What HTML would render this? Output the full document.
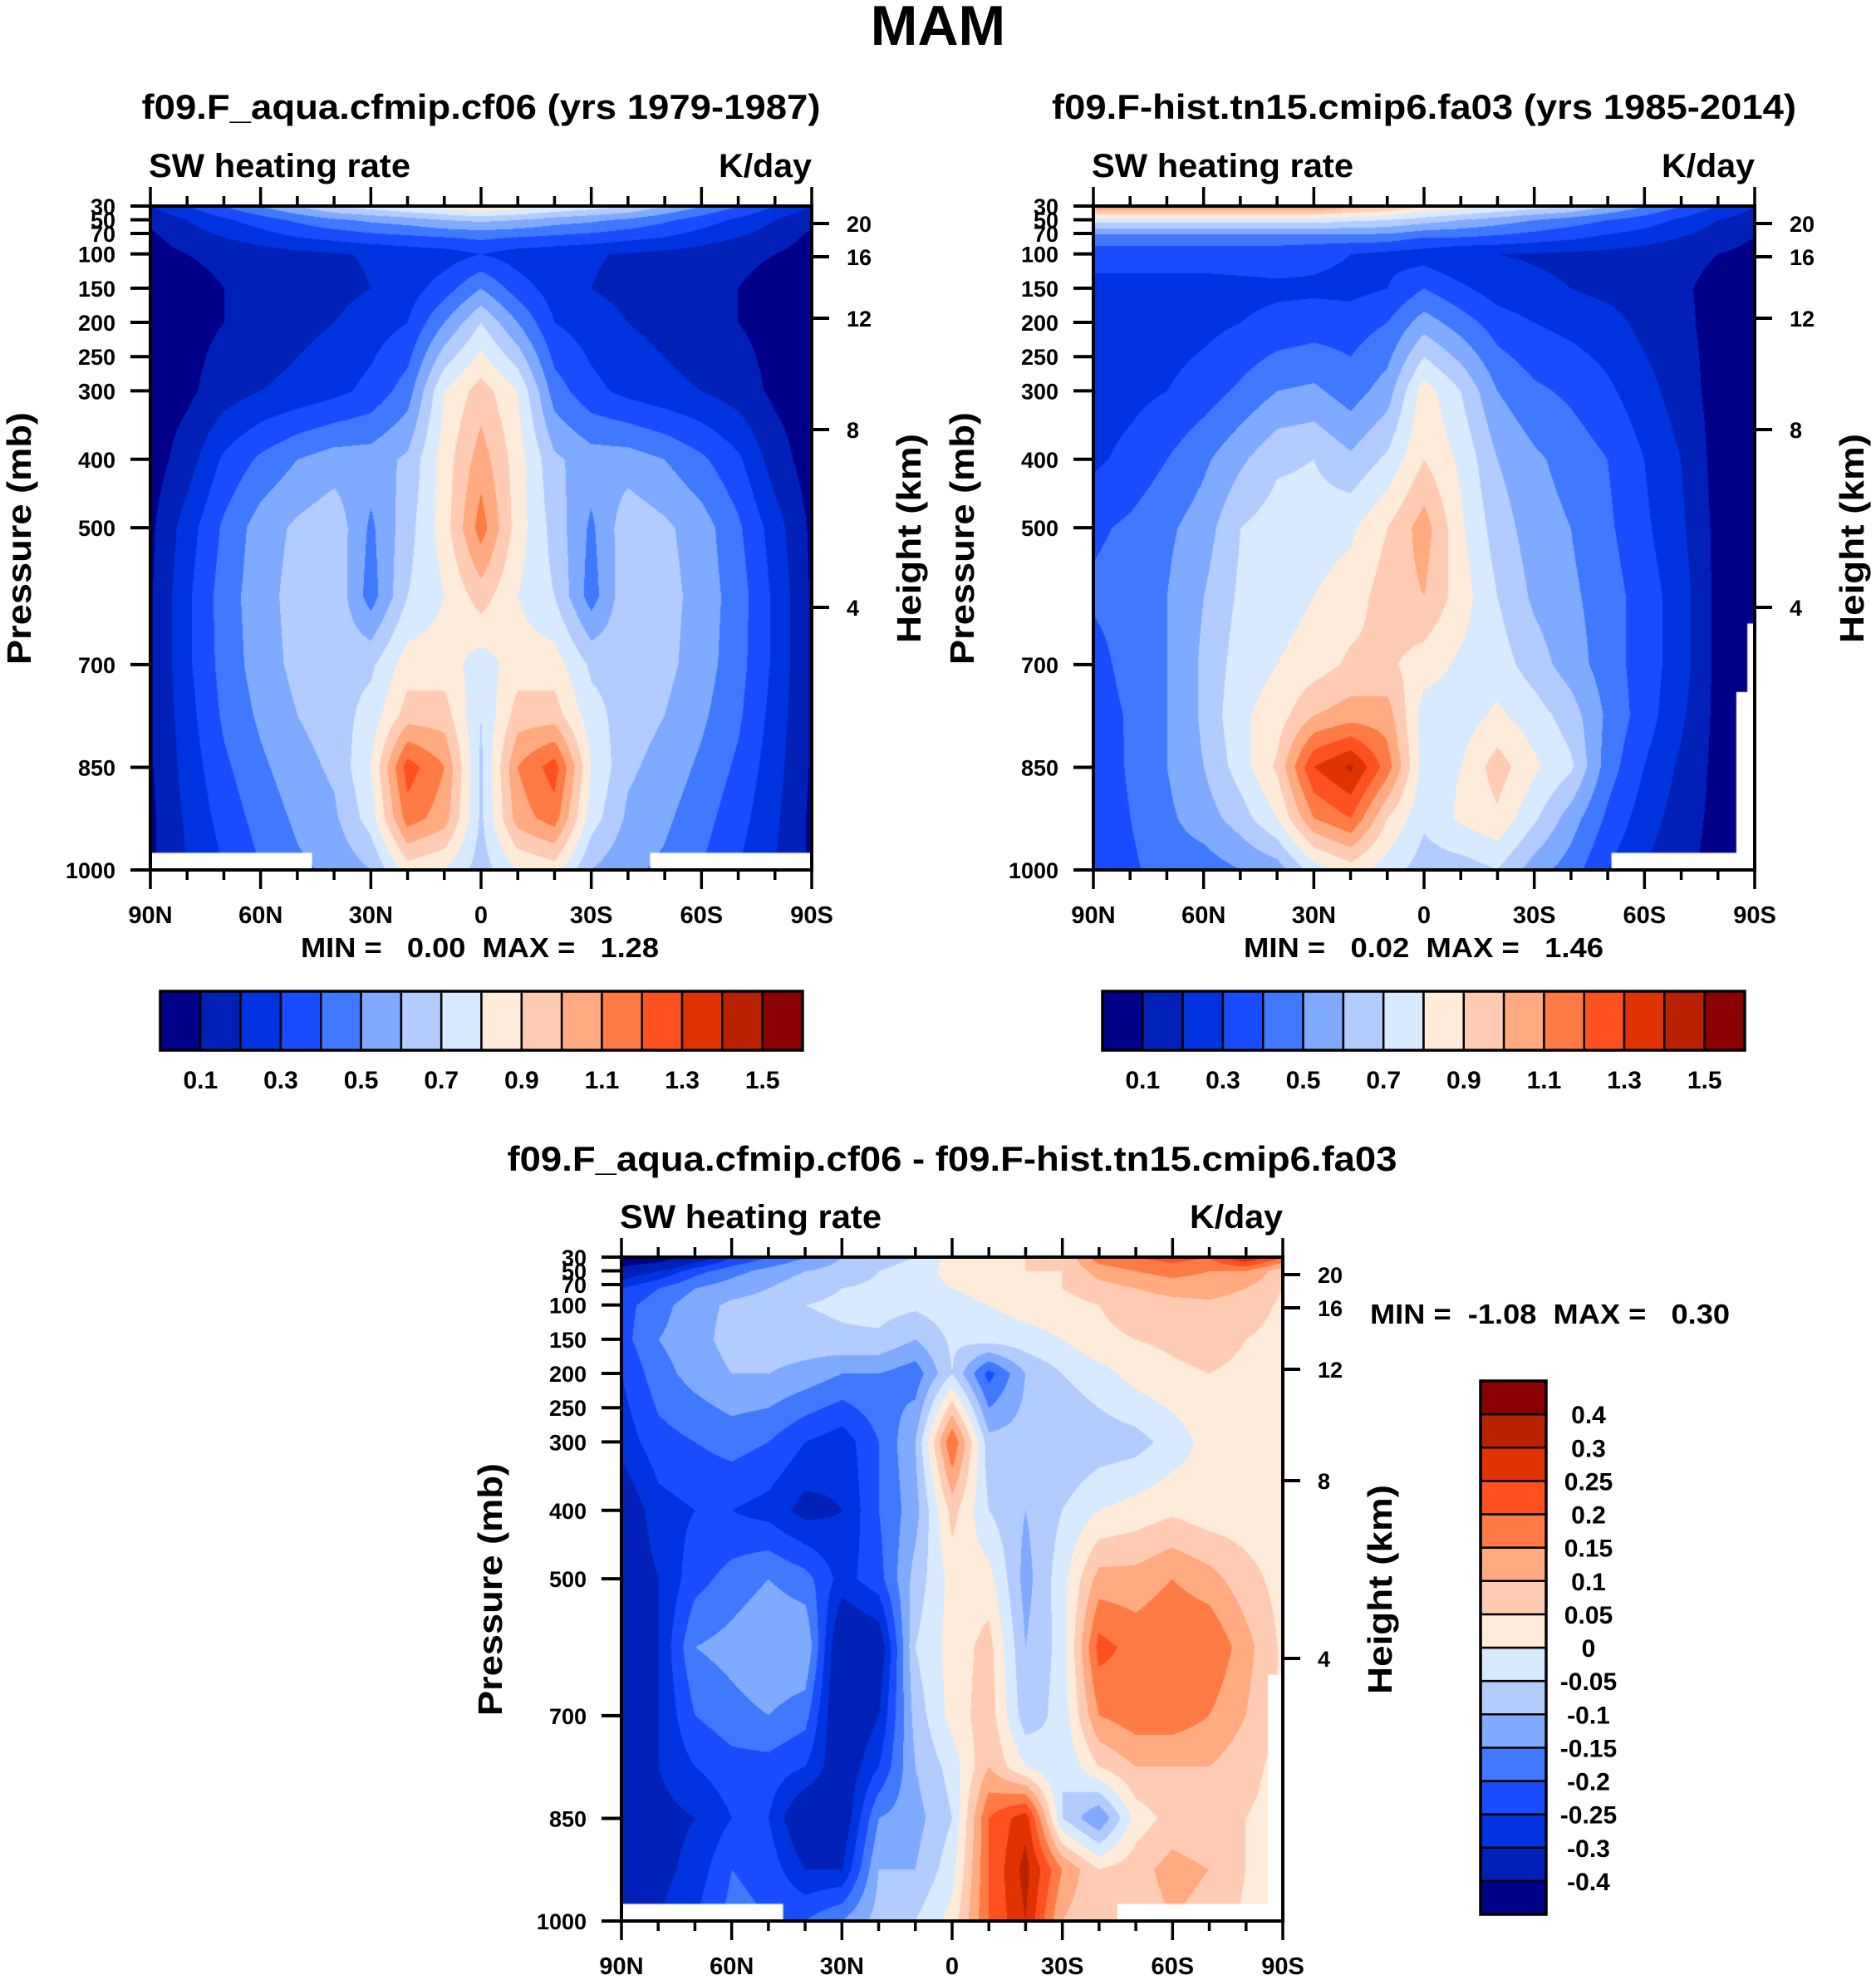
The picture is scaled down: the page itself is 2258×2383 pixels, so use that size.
<!DOCTYPE html>
<html><head><meta charset="utf-8">
<style>
html,body{margin:0;padding:0;background:#fff;}
#root{position:relative;width:2258px;height:2383px;overflow:hidden;background:#fff;}
canvas{position:absolute;}
svg{position:absolute;left:0;top:0;}
text{font-family:"Liberation Sans",Arial,sans-serif;font-weight:bold;fill:#000;}
.pre{white-space:pre;}
</style></head>
<body>
<div id="root">
<canvas id="c1" width="796" height="799" style="left:181px;top:248px"></canvas>
<canvas id="c2" width="796" height="799" style="left:1316px;top:248px"></canvas>
<canvas id="c3" width="796" height="799" style="left:748px;top:1513px"></canvas>
<svg id="ov" width="2258" height="2383"></svg>
</div>
<script>
// ---- data ----
const pressures = [30,50,75,100,150,200,300,400,500,600,700,775,850,925,1000];
const latLabels = ["90N","60N","30N","0","30S","60S","90S"];
const pTicks = [30,50,70,100,150,200,250,300,400,500,700,850,1000];
const hTicks = [20,16,12,8,4];
const hTickY = [269,309,383,517,731];
const absLevels = [0.1,0.2,0.3,0.4,0.5,0.6,0.7,0.8,0.9,1.0,1.1,1.2,1.3,1.4,1.5];
const diffLevels = [-0.4,-0.3,-0.25,-0.2,-0.15,-0.1,-0.05,0,0.05,0.1,0.15,0.2,0.25,0.3,0.4];
const absLabels = ["0.1","0.3","0.5","0.7","0.9","1.1","1.3","1.5"];
const diffLabels = ["-0.4","-0.3","-0.25","-0.2","-0.15","-0.1","-0.05","0","0.05","0.1","0.15","0.2","0.25","0.3","0.4"];
const colors = ["#000088","#0020b8","#0033e0","#1a4cff","#4078ff","#80aaff","#b2ccff","#d8eaff","#ffebd9","#ffccb3","#ffaa80","#ff7a45","#ff5020","#e03300","#b82200","#8b0000"];
// columns 90N..90S every 10 deg, values at pressures[]
const aquaValues = [
[0.2,0.12,0.08,0.06,0.05,0.05,0.05,0.05,0.08,0.09,0.09,0.09,0.09,0.08,0.08],
[0.3,0.2,0.15,0.1,0.07,0.07,0.08,0.15,0.25,0.28,0.28,0.26,0.24,0.22,0.2],
[0.4,0.28,0.2,0.12,0.1,0.1,0.15,0.32,0.42,0.45,0.44,0.42,0.38,0.34,0.3],
[0.5,0.35,0.25,0.15,0.12,0.13,0.2,0.42,0.55,0.56,0.55,0.52,0.48,0.44,0.4],
[0.6,0.42,0.3,0.17,0.15,0.17,0.23,0.5,0.62,0.64,0.63,0.6,0.56,0.52,0.48],
[0.7,0.48,0.33,0.19,0.17,0.2,0.27,0.55,0.67,0.68,0.66,0.65,0.62,0.58,0.52],
[0.75,0.52,0.36,0.21,0.2,0.25,0.33,0.55,0.48,0.45,0.68,0.74,0.8,0.75,0.6],
[0.8,0.55,0.38,0.23,0.25,0.3,0.45,0.62,0.66,0.7,0.85,0.95,1.25,1.15,0.85],
[0.85,0.6,0.4,0.25,0.35,0.5,0.8,0.85,0.85,0.8,0.85,0.95,1.1,1.05,0.8],
[0.9,0.62,0.42,0.3,0.5,0.7,0.95,1.05,1.15,0.95,0.75,0.7,0.68,0.68,0.65],
[0.85,0.6,0.4,0.25,0.35,0.5,0.8,0.85,0.85,0.8,0.85,0.95,1.1,1.05,0.8],
[0.8,0.55,0.38,0.23,0.25,0.3,0.45,0.62,0.66,0.7,0.85,0.95,1.25,1.15,0.85],
[0.75,0.52,0.36,0.21,0.2,0.25,0.33,0.55,0.48,0.45,0.68,0.74,0.8,0.75,0.6],
[0.7,0.48,0.33,0.19,0.17,0.2,0.27,0.55,0.67,0.68,0.66,0.65,0.62,0.58,0.52],
[0.6,0.42,0.3,0.17,0.15,0.17,0.23,0.5,0.62,0.64,0.63,0.6,0.56,0.52,0.48],
[0.5,0.35,0.25,0.15,0.12,0.13,0.2,0.42,0.55,0.56,0.55,0.52,0.48,0.44,0.4],
[0.4,0.28,0.2,0.12,0.1,0.1,0.15,0.32,0.42,0.45,0.44,0.42,0.38,0.34,0.3],
[0.3,0.2,0.15,0.1,0.07,0.07,0.08,0.15,0.25,0.28,0.28,0.26,0.24,0.22,0.2],
[0.2,0.12,0.08,0.06,0.05,0.05,0.05,0.05,0.08,0.09,0.09,0.09,0.09,0.08,0.08]
];
const histValues = [
[1.1,0.75,0.45,0.35,0.26,0.25,0.25,0.28,0.38,0.42,0.35,0.32,0.3,0.3,0.3],
[1.1,0.75,0.45,0.35,0.26,0.25,0.27,0.33,0.42,0.45,0.45,0.42,0.42,0.4,0.38],
[1.1,0.75,0.45,0.35,0.26,0.25,0.3,0.4,0.48,0.5,0.5,0.5,0.5,0.48,0.45],
[1.1,0.75,0.45,0.35,0.26,0.27,0.35,0.48,0.55,0.6,0.62,0.62,0.6,0.55,0.45],
[1.1,0.75,0.45,0.35,0.27,0.3,0.42,0.58,0.7,0.72,0.75,0.78,0.75,0.65,0.5],
[1.1,0.75,0.45,0.35,0.28,0.33,0.5,0.68,0.75,0.75,0.8,0.85,0.92,0.8,0.55],
[1.1,0.75,0.45,0.33,0.28,0.35,0.52,0.7,0.75,0.8,0.85,1.0,1.3,1.1,0.75],
[1.05,0.72,0.45,0.3,0.27,0.35,0.45,0.62,0.78,0.85,0.92,1.05,1.42,1.2,0.85],
[1.0,0.7,0.45,0.27,0.3,0.4,0.55,0.72,0.9,0.95,0.92,1.05,1.15,0.9,0.75],
[0.9,0.65,0.4,0.25,0.4,0.55,0.85,0.9,1.05,1.0,0.85,0.75,0.75,0.72,0.65],
[0.85,0.6,0.4,0.2,0.32,0.45,0.7,0.78,0.82,0.85,0.78,0.75,0.8,0.82,0.65],
[0.8,0.55,0.38,0.2,0.25,0.35,0.5,0.6,0.65,0.7,0.75,0.82,0.95,0.88,0.7],
[0.75,0.5,0.35,0.19,0.22,0.3,0.42,0.52,0.55,0.58,0.65,0.75,0.82,0.72,0.55],
[0.7,0.45,0.32,0.18,0.2,0.27,0.38,0.46,0.5,0.52,0.55,0.65,0.72,0.55,0.45],
[0.6,0.4,0.28,0.17,0.17,0.24,0.32,0.4,0.42,0.45,0.45,0.48,0.45,0.38,0.3],
[0.5,0.35,0.25,0.15,0.14,0.17,0.24,0.3,0.32,0.35,0.35,0.35,0.3,0.25,0.2],
[0.4,0.28,0.2,0.12,0.11,0.12,0.15,0.2,0.22,0.25,0.25,0.22,0.18,0.15,0.12],
[0.3,0.2,0.15,0.1,0.08,0.07,0.06,0.06,0.07,0.07,0.07,0.07,0.07,0.07,0.07],
[0.2,0.15,0.1,0.07,0.05,0.05,0.05,0.05,0.05,0.05,0.05,0.05,0.05,0.05,0.05]
];
const diffValues = [
[-0.5,-0.35,-0.25,-0.22,-0.22,-0.25,-0.28,-0.35,-0.35,-0.35,-0.35,-0.35,-0.33,-0.32,-0.3],
[-0.45,-0.3,-0.2,-0.17,-0.15,-0.17,-0.22,-0.27,-0.3,-0.3,-0.3,-0.3,-0.32,-0.32,-0.3],
[-0.35,-0.22,-0.15,-0.12,-0.12,-0.13,-0.2,-0.25,-0.22,-0.15,-0.2,-0.25,-0.3,-0.28,-0.25],
[-0.25,-0.17,-0.12,-0.09,-0.08,-0.1,-0.18,-0.25,-0.18,-0.13,-0.17,-0.22,-0.25,-0.2,-0.18],
[-0.2,-0.13,-0.1,-0.08,-0.07,-0.1,-0.2,-0.27,-0.15,-0.1,-0.15,-0.22,-0.25,-0.22,-0.2],
[-0.15,-0.1,-0.07,-0.05,-0.07,-0.12,-0.25,-0.32,-0.18,-0.1,-0.18,-0.25,-0.37,-0.3,-0.2],
[-0.1,-0.08,-0.05,-0.04,-0.06,-0.15,-0.28,-0.3,-0.27,-0.38,-0.38,-0.35,-0.35,-0.3,-0.15],
[-0.07,-0.05,-0.04,-0.03,-0.06,-0.15,-0.2,-0.2,-0.22,-0.35,-0.3,-0.25,-0.15,-0.1,-0.08],
[-0.05,-0.03,-0.02,-0.04,-0.1,-0.18,-0.1,-0.12,-0.08,-0.05,-0.08,-0.1,-0.12,-0.1,-0.05],
[0.02,0.02,0.0,-0.02,-0.04,-0.05,0.2,0.07,0.02,0.02,0.02,-0.03,-0.05,-0.02,0.02],
[0.03,0.03,0.02,0.0,-0.03,-0.22,-0.08,-0.05,0.02,0.07,0.08,0.1,0.2,0.2,0.2],
[0.05,0.05,0.04,0.02,-0.02,-0.1,-0.08,-0.1,-0.12,-0.1,-0.08,0.0,0.28,0.32,0.3],
[0.05,0.05,0.05,0.03,0.0,-0.05,-0.1,-0.05,-0.02,-0.03,-0.03,-0.05,-0.05,0.15,0.1],
[0.18,0.12,0.08,0.05,0.04,-0.02,-0.08,0.0,0.12,0.22,0.15,0.05,-0.15,0.05,0.05],
[0.2,0.15,0.1,0.07,0.05,0.02,-0.07,0.02,0.12,0.18,0.18,0.1,0.02,0.08,0.07],
[0.22,0.17,0.12,0.08,0.06,0.04,-0.03,0.04,0.15,0.2,0.18,0.1,0.07,0.12,0.1],
[0.2,0.15,0.12,0.09,0.07,0.05,0.02,0.02,0.12,0.2,0.15,0.1,0.05,0.1,0.08],
[0.3,0.15,0.1,0.08,0.05,0.04,0.02,0.02,0.07,0.12,0.1,0.07,0.05,0.05,0.04],
[0.2,0.07,0.05,0.04,0.03,0.02,0.02,0.02,0.03,0.04,0.04,0.03,0.03,0.03,0.03]
];
// missing-data regions: [latStart, latEnd (deg from 90N), pTop]
const aquaMissing = [[0,44,975],[136,180,975]];
const histMissing = [[141,180,975],[175,180,740],[178,180,640]];
const diffMissing = [[0,44,975],[135,180,975],[176,180,640]];

// ---- geometry ----
const PW=796, PH=799;
function yOfP(p){ return (p-30)/970*PH; }
function xOfLat(d){ return d/180*PW; }

function levelIndex(v, lv){ let i=0; while(i<lv.length && v>=lv[i]) i++; return i; }
function hexRgb(h){ return [parseInt(h.substr(1,2),16),parseInt(h.substr(3,2),16),parseInt(h.substr(5,2),16)]; }
const rgb = colors.map(hexRgb);

function drawField(id, vals, lv, missing){
  const cv=document.getElementById(id), ctx=cv.getContext('2d');
  const img=ctx.createImageData(PW,PH), d=img.data;
  const nc=vals.length-1;
  for(let y=0;y<PH;y++){
    const p=30+970*y/(PH-1);
    let r=0; while(r<pressures.length-2 && p>pressures[r+1]) r++;
    const t=(p-pressures[r])/(pressures[r+1]-pressures[r]);
    for(let x=0;x<PW;x++){
      const fc=x/(PW-1)*nc; let c=Math.min(Math.floor(fc),nc-1); const s=fc-c;
      const a=vals[c][r]*(1-t)+vals[c][r+1]*t;
      const b=vals[c+1][r]*(1-t)+vals[c+1][r+1]*t;
      const v=a*(1-s)+b*s;
      const col=rgb[levelIndex(v,lv)];
      const k=(y*PW+x)*4; d[k]=col[0];d[k+1]=col[1];d[k+2]=col[2];d[k+3]=255;
    }
  }
  ctx.putImageData(img,0,0);
  ctx.fillStyle='#fff';
  missing.forEach(m=>{ const x0=xOfLat(m[0]), x1=xOfLat(m[1]), y0=yOfP(m[2]); ctx.fillRect(x0,y0,x1-x0,PH-y0); });
}
drawField('c1',aquaValues,absLevels,aquaMissing);
drawField('c2',histValues,absLevels,histMissing);
drawField('c3',diffValues,diffLevels,diffMissing);

// ---- overlay ----
const NS='http://www.w3.org/2000/svg';
const ov=document.getElementById('ov');
function mk(tag,attrs,parent){ const e=document.createElementNS(NS,tag); for(const k in attrs) e.setAttribute(k,attrs[k]); (parent||ov).appendChild(e); return e; }
function txt(str,attrs,name){ const e=mk('text',attrs); e.textContent=str;
  
  
  return e; }

txt('MAM',{x:1129,y:54,'font-size':68,'text-anchor':'middle'},'figure-title');

function panel(ox,oy,title,tcx,tcy,tlen,minmax,mm){
  const g=mk('g',{});
  
  
  txt(title,{x:tcx,y:tcy,'font-size':42,'text-anchor':'middle',textLength:tlen,lengthAdjust:'spacingAndGlyphs'},'panel-title');
  txt('SW heating rate',{x:ox-2,y:oy-35,'font-size':40,textLength:315,lengthAdjust:'spacingAndGlyphs'},'variable-label');
  txt('K/day',{x:ox+PW,y:oy-35,'font-size':40,'text-anchor':'end',textLength:112,lengthAdjust:'spacingAndGlyphs'},'units-label');
  mk('rect',{x:ox,y:oy,width:PW,height:PH,fill:'none',stroke:'#000','stroke-width':4},g);
  for(let d=0;d<=180;d+=10){
    const x=ox+xOfLat(d), major=d%30===0, L=major?23:12;
    mk('line',{x1:x,y1:oy+PH,x2:x,y2:oy+PH+L,stroke:'#000','stroke-width':3.5},g);
    mk('line',{x1:x,y1:oy,x2:x,y2:oy-L,stroke:'#000','stroke-width':3.5},g);
  }
  latLabels.forEach((l,i)=>{ txt(l,{x:ox+xOfLat(i*30),y:oy+PH+64,'font-size':29,'text-anchor':'middle'},'x-tick-label'); });
  pTicks.forEach(p=>{ const y=oy+yOfP(p);
    mk('line',{x1:ox,y1:y,x2:ox-24,y2:y,stroke:'#000','stroke-width':4},g);
    txt(String(p),{x:ox-42,y:y+10,'font-size':27,'text-anchor':'end'},'y-tick-label'); });
  hTicks.forEach((h,i)=>{ const y=oy+hTickY[i]-248;
    mk('line',{x1:ox+PW,y1:y,x2:ox+PW+21,y2:y,stroke:'#000','stroke-width':4},g);
    txt(String(h),{x:ox+PW+42,y:y+10,'font-size':27},'height-tick-label'); });
  const cy=oy+400;
  txt('Pressure (mb)',{x:0,y:0,'font-size':41,'text-anchor':'middle',textLength:304,lengthAdjust:'spacingAndGlyphs',transform:`translate(${ox-144},${cy}) rotate(-90)`},'y-axis-title');
  txt('Height (km)',{x:0,y:0,'font-size':41,'text-anchor':'middle',textLength:252,lengthAdjust:'spacingAndGlyphs',transform:`translate(${ox+PW+131},${cy}) rotate(-90)`},'right-axis-title');
  if(minmax) txt(minmax,{x:mm[0],y:mm[1],'font-size':33,textLength:mm[2],lengthAdjust:'spacingAndGlyphs','class':'pre'},'min-max-label');
}
panel(181,248,'f09.F_aqua.cfmip.cf06 (yrs 1979-1987)',579,143,817,'MIN =   0.00  MAX =   1.28',[362,1152,431]);
panel(1316,248,'f09.F-hist.tn15.cmip6.fa03 (yrs 1985-2014)',1714,143,896,'MIN =   0.02  MAX =   1.46',[1497,1152,433]);
panel(748,1513,'f09.F_aqua.cfmip.cf06 - f09.F-hist.tn15.cmip6.fa03',1146,1409,1071,'MIN =  -1.08  MAX =   0.30',[1649,1593,433]);

function hbar(x0,y0,w,h){
  const bw=w/16;
  colors.forEach((c,i)=>{ const r=mk('rect',{x:x0+i*bw,y:y0,width:bw,height:h,fill:c,stroke:'#000','stroke-width':2.5});
    
     });
  mk('rect',{x:x0,y:y0,width:w,height:h,fill:'none',stroke:'#000','stroke-width':3.5});
  absLabels.forEach((l,i)=>{ const v=parseFloat(l); const k=Math.round(v*10);
    txt(l,{x:x0+k*bw,y:y0+h+46,'font-size':30,'text-anchor':'middle'},'colorbar-label'); });
}
hbar(193,1193,773,71);
hbar(1327,1193,773,71);
(function(){
  const x0=1782,y0=1662,w=79,h=642,bh=h/16;
  colors.forEach((c,i)=>{ const r=mk('rect',{x:x0,y:y0+h-(i+1)*bh,width:w,height:bh,fill:c,stroke:'#000','stroke-width':2.5});
    
     });
  mk('rect',{x:x0,y:y0,width:w,height:h,fill:'none',stroke:'#000','stroke-width':3.5});
  diffLabels.forEach((l,i)=>{ const y=y0+h-(i+1)*bh;
    txt(l,{x:1912,y:y+11,'font-size':30,'text-anchor':'middle'},'colorbar-label'); });
})();
</script>
</body></html>
